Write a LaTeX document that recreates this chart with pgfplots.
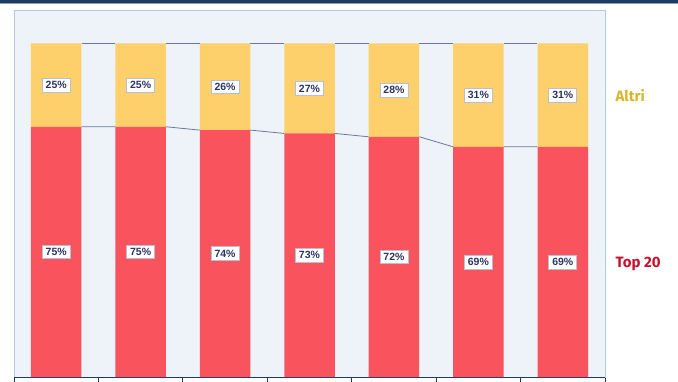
\documentclass[border=0pt]{standalone}
\usepackage{pgfplots}
\usepackage{pgfplotstable}
\pgfplotsset{compat=1.18}
\usepackage{fontspec}
\setmainfont{Liberation Sans}
\newfontfamily\labfont{Fira Sans}
\definecolor{redc}{HTML}{F9535D}
\definecolor{yelc}{HTML}{FDD06B}
\definecolor{bgc}{HTML}{EDF3F8}
\definecolor{framec}{HTML}{B5C9DE}
\definecolor{navyc}{HTML}{1F3A62}
\definecolor{txtc}{HTML}{2B3565}
\definecolor{boxc}{HTML}{B8BFD0}
\definecolor{connc}{HTML}{6B7899}
\definecolor{goldc}{HTML}{D9B52C}
\definecolor{darkred}{HTML}{C8102E}
\pgfplotstableread{
x top altri
0 75 25
1 75 25
2 74 26
3 73 27
4 72 28
5 69 31
6 69 31
}\data
\pgfplotstablecreatecol[create col/expr={\thisrow{top}/2}]{midtop}\data
\pgfplotstablecreatecol[create col/expr={\thisrow{top}+\thisrow{altri}/2}]{midalt}\data
\begin{document}
\begin{tikzpicture}
\begin{axis}[
  at={(14pt,4pt)}, anchor=south west,
  scale only axis, width=591pt, y=3.3364pt,
  xmin=-0.5, xmax=6.5, ymin=0, ymax=110,
  ybar stacked, bar width=50.5pt,
  axis background/.style={fill=bgc},
  axis line style={framec, line width=0.8pt},
  xtick={-0.5,0.5,1.5,2.5,3.5,4.5,5.5,6.5}, xticklabels={},
  xtick pos=left, tick align=outside, major tick length=8pt,
  xtick style={navyc, line width=0.9pt},
  ytick=\empty,
]
\addplot[fill=redc, draw=none] table[x=x, y=top] {\data};
\addplot[fill=yelc, draw=none] table[x=x, y=altri] {\data};
\draw[navyc, line width=0.9pt] (rel axis cs:0,0) -- (rel axis cs:1,0);
\end{axis}
\begin{axis}[
  at={(14pt,4pt)}, anchor=south west,
  scale only axis, width=591pt, y=3.3364pt,
  xmin=-0.5, xmax=6.5, ymin=0, ymax=110,
  hide axis, clip=false, unbounded coords=jump,
  every node near coord/.append style={anchor=center,
    fill=white, draw=boxc, line width=0.6pt, inner xsep=3.5pt, inner ysep=3.2pt,
    text=txtc, font=\fontsize{10.5}{11}\selectfont\bfseries},
]
\addplot[connc, line width=0.8pt] coordinates {
(0.3,100) (0.7,100) (1,nan) (1.3,100) (1.7,100) (2,nan) (2.3,100) (2.7,100) (3,nan)
(3.3,100) (3.7,100) (4,nan) (4.3,100) (4.7,100) (5,nan) (5.3,100) (5.7,100)};
\addplot[connc, line width=0.8pt] coordinates {
(0.3,75) (0.7,75) (1,nan) (1.3,75) (1.7,74) (2,nan) (2.3,74) (2.7,73) (3,nan)
(3.3,73) (3.7,72) (4,nan) (4.3,72) (4.7,69) (5,nan) (5.3,69) (5.7,69)};
\addplot[draw=none, mark=none, point meta=explicit symbolic,
  nodes near coords={\pgfplotspointmeta\%}] table[x=x, y=midtop, meta=top] {\data};
\addplot[draw=none, mark=none, point meta=explicit symbolic,
  nodes near coords={\pgfplotspointmeta\%}] table[x=x, y=midalt, meta=altri] {\data};
\node[anchor=west, text=goldc, font=\labfont\fontsize{15}{16}\selectfont\bfseries] at (axis cs:6.5,84.5) [xshift=7pt] {Altri};
\node[anchor=west, text=darkred, font=\labfont\fontsize{15}{16}\selectfont\bfseries] at (axis cs:6.5,34) [xshift=7pt] {Top 20};
\end{axis}
\fill[navyc] (0,377.5pt) rectangle (678pt,381pt);
\draw[framec!70!navyc, line width=0.6pt] (0,377.3pt) -- (678pt,377.3pt);
\pgfresetboundingbox
\useasboundingbox (0,0) rectangle (678pt,381pt);
\end{tikzpicture}
\end{document}
